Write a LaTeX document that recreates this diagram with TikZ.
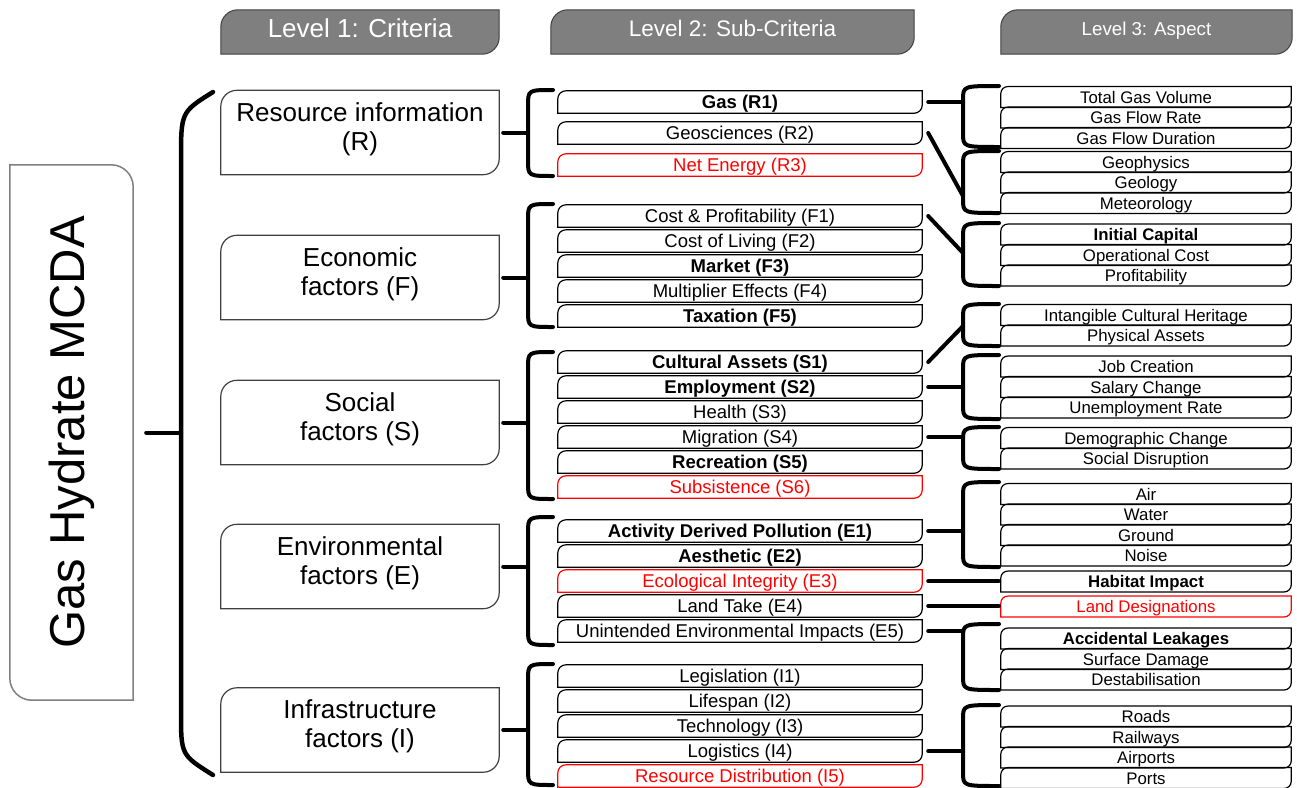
\documentclass[tikz,border=0pt]{standalone}
\usepackage{fontspec}
\setmainfont{Liberation Sans}
\usetikzlibrary{calc,backgrounds}

\definecolor{tabgray}{RGB}{127,127,127}
\definecolor{edgegray}{RGB}{64,64,64}

% outline with rounded top-left and bottom-right corners
\newcommand{\outln}[3]{\draw[#3] (#1.south west)
  -- ($(#1.north west)!#2!(#1.south west)$)
  .. controls ($(#1.north west)!0.45*#2!(#1.south west)$) and ($(#1.north west)!0.45*#2!(#1.north east)$) .. ($(#1.north west)!#2!(#1.north east)$)
  -- (#1.north east)
  -- ($(#1.south east)!#2!(#1.north east)$)
  .. controls ($(#1.south east)!0.45*#2!(#1.north east)$) and ($(#1.south east)!0.45*#2!(#1.south west)$) .. ($(#1.south east)!#2!(#1.south west)$)
  -- cycle;}

\tikzset{
  tabhead/.style={inner sep=0pt, minimum height=44pt, text=white, text depth=7pt},
  critbox/.style={inner sep=0pt, minimum width=278pt, minimum height=84pt, align=center, text depth=12.5pt, font=\fontsize{26}{29}\selectfont},
  subbox/.style={inner sep=0pt, minimum width=364pt, minimum height=22pt, text height=15pt, text depth=2pt, font=\fontsize{18.5}{20}\selectfont},
  aspbox/.style={inner sep=0pt, minimum width=290pt, minimum height=20.5pt, text height=13.6pt, text depth=1.6pt, font=\fontsize{16.8}{18}\selectfont},
  clamp/.style={line width=4pt, line cap=round},
  subline/.style={draw=black, line width=1.2pt},
}

\begin{document}
\begin{tikzpicture}[x=1pt, y=1pt]
\useasboundingbox (0,0) rectangle (1297,-787);

% headers
\node[tabhead, minimum width=278pt, font=\fontsize{26}{28}\selectfont] (h1) at (360,-32) {Level 1: Criteria};
\node[tabhead, minimum width=363pt, font=\fontsize{22.5}{24}\selectfont] (h2) at (732.5,-32) {Level 2: Sub-Criteria};
\node[tabhead, minimum width=291pt, font=\fontsize{18.7}{20}\selectfont] (h3) at (1146.5,-32) {Level 3: Aspect};

% goal
\node[rotate=90, inner sep=0pt, minimum width=535pt, minimum height=123pt, font=\fontsize{49}{52}\selectfont] (mcda) at (71.5,-432.5) {Gas Hydrate MCDA};
\coordinate (bsp) at (181,0);

% level 1
\node[critbox] (res) at (360,-132.5) {Resource information\\(R)};
\node[critbox] (eco) at (360,-277.5) {Economic\\factors (F)};
\node[critbox] (soc) at (360,-422.5) {Social\\factors (S)};
\node[critbox] (env) at (360,-566.5) {Environmental\\factors (E)};
\node[critbox] (inf) at (360,-730) {Infrastructure\\factors (I)};
\coordinate (sp2) at (528,0);

% level 2
\node[subbox] (r1) at (740,-102) {\bfseries Gas (R1)};
\node[subbox] (r2) at (740,-133) {Geosciences (R2)};
\node[subbox, text=red] (r3) at (740,-165) {Net Energy (R3)};
\node[subbox] (f1) at (740,-216) {Cost \& Profitability (F1)};
\node[subbox] (f2) at (740,-241) {Cost of Living (F2)};
\node[subbox] (f3) at (740,-266) {\bfseries Market (F3)};
\node[subbox] (f4) at (740,-291) {Multiplier Effects (F4)};
\node[subbox] (f5) at (740,-316) {\bfseries Taxation (F5)};
\node[subbox] (s1) at (740,-362) {\bfseries Cultural Assets (S1)};
\node[subbox] (s2) at (740,-387) {\bfseries Employment (S2)};
\node[subbox] (s3) at (740,-412) {Health (S3)};
\node[subbox] (s4) at (740,-437) {Migration (S4)};
\node[subbox] (s5) at (740,-462) {\bfseries Recreation (S5)};
\node[subbox, text=red] (s6) at (740,-487) {Subsistence (S6)};
\node[subbox] (e1) at (740,-531) {\bfseries Activity Derived Pollution (E1)};
\node[subbox] (e2) at (740,-556) {\bfseries Aesthetic (E2)};
\node[subbox, text=red] (e3) at (740,-581) {Ecological Integrity (E3)};
\node[subbox] (e4) at (740,-606) {Land Take (E4)};
\node[subbox] (e5) at (740,-631) {Unintended Environmental Impacts (E5)};
\node[subbox] (i1) at (740,-676) {Legislation (I1)};
\node[subbox] (i2) at (740,-701) {Lifespan (I2)};
\node[subbox] (i3) at (740,-726) {Technology (I3)};
\node[subbox] (i4) at (740,-751) {Logistics (I4)};
\node[subbox, text=red] (i5) at (740,-776) {Resource Distribution (I5)};
\coordinate (sp3) at (963,0);

% level 3
\node[aspbox] (tgv) at (1146,-97) {Total Gas Volume};
\node[aspbox] (gfr) at (1146,-117.5) {Gas Flow Rate};
\node[aspbox] (gfd) at (1146,-138) {Gas Flow Duration};
\node[aspbox] (gph) at (1146,-162) {Geophysics};
\node[aspbox] (geo) at (1146,-182.5) {Geology};
\node[aspbox] (met) at (1146,-203) {Meteorology};
\node[aspbox] (ic) at (1146,-234.5) {\bfseries Initial Capital};
\node[aspbox] (oc) at (1146,-255) {Operational Cost};
\node[aspbox] (prof) at (1146,-275.5) {Profitability};
\node[aspbox] (ich) at (1146,-315) {Intangible Cultural Heritage};
\node[aspbox] (pa) at (1146,-335.5) {Physical Assets};
\node[aspbox] (jc) at (1146,-366.5) {Job Creation};
\node[aspbox] (sc) at (1146,-387) {Salary Change};
\node[aspbox] (ur) at (1146,-407.5) {Unemployment Rate};
\node[aspbox] (dc) at (1146,-438) {Demographic Change};
\node[aspbox] (sd) at (1146,-458.5) {Social Disruption};
\node[aspbox] (air) at (1146,-494) {Air};
\node[aspbox] (wat) at (1146,-514.5) {Water};
\node[aspbox] (gro) at (1146,-535) {Ground};
\node[aspbox] (noi) at (1146,-555.5) {Noise};
\node[aspbox] (hab) at (1146,-581.5) {\bfseries Habitat Impact};
\node[aspbox, text=red] (ld) at (1146,-606.5) {Land Designations};
\node[aspbox] (al) at (1146,-638.5) {\bfseries Accidental Leakages};
\node[aspbox] (sdm) at (1146,-659) {Surface Damage};
\node[aspbox] (des) at (1146,-679.5) {Destabilisation};
\node[aspbox] (rd) at (1146,-716.5) {Roads};
\node[aspbox] (rw) at (1146,-737) {Railways};
\node[aspbox] (ap) at (1146,-757.5) {Airports};
\node[aspbox] (po) at (1146,-778) {Ports};

\coordinate (jgeo) at (963,-196);
\coordinate (jeco) at (963,-253);
\coordinate (jcul) at (963,-326);

% box outlines
\begin{pgfonlayer}{background}
\foreach \n in {h1,h2,h3} {\outln{\n}{17pt}{fill=tabgray, draw=edgegray, line width=1pt}}
\outln{mcda}{22pt}{draw=gray, line width=1.5pt}
\foreach \n in {res,eco,soc,env,inf} {\outln{\n}{16pt}{draw=edgegray, line width=1.2pt}}
\foreach \n in {r1,r2,f1,f2,f3,f4,f5,s1,s2,s3,s4,s5,e1,e2,e4,e5,i1,i2,i3,i4} {\outln{\n}{8pt}{subline}}
\foreach \n in {r3,s6,e3,i5} {\outln{\n}{8pt}{subline, draw=red}}
\foreach \n in {tgv,gfr,gfd,gph,geo,met,ic,oc,prof,ich,pa,jc,sc,ur,dc,sd,air,wat,gro,noi,hab,al,sdm,des,rd,rw,ap,po} {\outln{\n}{7pt}{subline}}
\outln{ld}{7pt}{subline, draw=red}
\end{pgfonlayer}

% braces
\draw[clamp, line width=4.5pt] (213,-92) .. controls (181,-112) .. (181,-160) -- (181,-712) .. controls (181,-755) .. (213,-775);
\foreach \t/\b in {90/176, 204/327, 352/499, 517/645, 664/785}
  \draw[clamp] (553,-\t) .. controls (528,-\t) .. (528,-\t-16) -- (528,-\b+16) .. controls (528,-\b) .. (553,-\b);
\foreach \t/\b in {86/147, 151/213, 223/286, 304/346, 355/419, 427/469, 482/567, 624/690, 705/786}
  \draw[clamp] (999,-\t) .. controls (963,-\t) .. (963,-\t-14) -- (963,-\b+14) .. controls (963,-\b) .. (999,-\b);

% connectors
\draw[clamp] ([xshift=13pt]mcda.south) -- (mcda.south -| bsp);
\foreach \n in {res,eco,soc,env,inf}
  \draw[clamp] ([xshift=4pt]\n.east) -- (\n.east -| sp2);
\foreach \n in {r1,s2,s4,e1,e5,i4}
  \draw[clamp] ([xshift=6pt]\n.east) -- (\n.east -| sp3);
\draw[clamp] ([xshift=6pt]r2.east) -- (jgeo);
\draw[clamp] ([xshift=6pt]f1.east) -- (jeco);
\draw[clamp] ([xshift=6pt]s1.east) -- (jcul);
\draw[clamp] ([xshift=6pt]e3.east) -- ([xshift=-2pt]e3.east -| hab.west);
\draw[clamp] ([xshift=6pt]e4.east) -- ([xshift=-2pt]e4.east -| ld.west);
\end{tikzpicture}
\end{document}
